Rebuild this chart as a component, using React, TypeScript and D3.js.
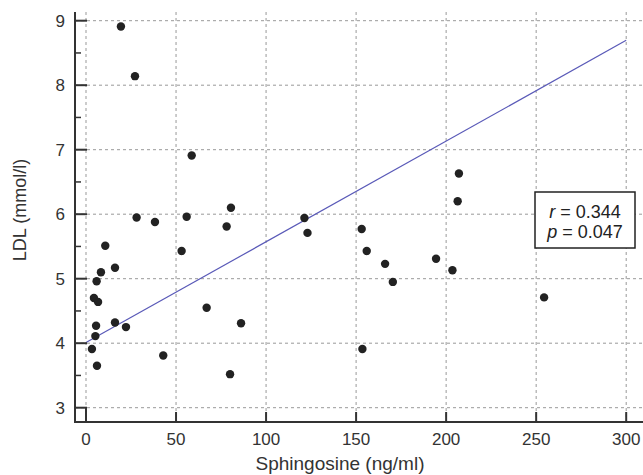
import React from "react";
import * as d3 from "d3";

const sphingosine = [19.4, 27.2, 58.7, 28.1, 38.3, 55.9, 10.7, 53.1, 16.1, 8.3, 5.9, 4.4, 6.7, 67.0, 16.1, 5.6, 22.2, 5.2, 3.3, 42.9, 6.1, 80.5, 78.1, 121.3, 123.0, 153.1, 155.9, 166.1, 170.4, 194.4, 203.5, 86.1, 153.5, 80.0, 207.1, 206.4, 254.4];
const ldl = [8.91, 8.14, 6.91, 5.95, 5.88, 5.96, 5.51, 5.43, 5.17, 5.10, 4.96, 4.70, 4.64, 4.55, 4.32, 4.27, 4.25, 4.11, 3.91, 3.81, 3.65, 6.10, 5.81, 5.94, 5.71, 5.77, 5.43, 5.23, 4.95, 5.31, 5.13, 4.31, 3.91, 3.52, 6.63, 6.20, 4.71];
const xTicks = [0, 50, 100, 150, 200, 250, 300];
const yTicks = [3, 4, 5, 6, 7, 8, 9];
const yMinorTicks = [3.5, 4.5, 5.5, 6.5, 7.5, 8.5];
const regression = { intercept: 4.01, slope: 0.01562 };
const stats = { r: "0.344", p: "0.047" };

export default function App() {
  const x = d3.scaleLinear().domain([0, 300]).range([86, 626.2]);
  const y = d3.scaleLinear().domain([3, 9]).range([407.7, 20.7]);
  const axisX = 75;
  const axisY = 422;
  const topY = 12;
  const rightX = 643;
  const font = "Liberation Sans, Arial, Helvetica, sans-serif";
  const line = d3.line<number>().x((d) => x(d)).y((d) => y(regression.intercept + regression.slope * d));
  return (
    <svg width={643} height={475} style={{ position: "absolute", left: 0, top: 0, background: "#fff" }} fontFamily={font}>
      {/* grid */}
      {xTicks.map((t) => (
        <line key={"gx" + t} x1={x(t)} x2={x(t)} y1={topY} y2={axisY} stroke="#999" strokeWidth={1} strokeDasharray="3,3" />
      ))}
      {yTicks.map((t) => (
        <line key={"gy" + t} x1={axisX} x2={rightX} y1={y(t)} y2={y(t)} stroke="#999" strokeWidth={1} strokeDasharray="3,3" />
      ))}
      {/* regression line */}
      <path d={line([0, 300]) || ""} fill="none" stroke="#5a5ab8" strokeWidth={1.2} />
      {/* points */}
      {sphingosine.map((v, i) => (
        <circle key={"p" + i} cx={x(v)} cy={y(ldl[i])} r={4.2} fill="#222" />
      ))}
      {/* axes */}
      <line x1={axisX} x2={axisX} y1={topY} y2={axisY + 1} stroke="#333" strokeWidth={2} />
      <line x1={axisX - 1} x2={rightX} y1={axisY} y2={axisY} stroke="#333" strokeWidth={2} />
      {yTicks.map((t) => (
        <line key={"ty" + t} x1={axisX} x2={axisX + 12} y1={y(t)} y2={y(t)} stroke="#333" strokeWidth={2} />
      ))}
      {yMinorTicks.map((t) => (
        <line key={"tym" + t} x1={axisX} x2={axisX + 6} y1={y(t)} y2={y(t)} stroke="#333" strokeWidth={1.5} />
      ))}
      {xTicks.map((t) => (
        <line key={"tx" + t} x1={x(t)} x2={x(t)} y1={axisY} y2={t === 0 ? y(3) : axisY - 10} stroke="#333" strokeWidth={2} />
      ))}
      {/* tick labels */}
      {yTicks.map((t) => (
        <text key={"ly" + t} x={65} y={y(t)} dy="0.36em" textAnchor="end" fontSize={17} fill="#333">{t}</text>
      ))}
      {xTicks.map((t) => (
        <text key={"lx" + t} x={x(t)} y={445} textAnchor="middle" fontSize={17} fill="#333">{t}</text>
      ))}
      {/* axis titles */}
      <text x={340} y={470} textAnchor="middle" fontSize={19} fill="#333">Sphingosine (ng/ml)</text>
      <text transform="translate(26,210) rotate(-90)" textAnchor="middle" fontSize={18} fill="#333">LDL (mmol/l)</text>
      {/* stats box */}
      <rect x={535} y={192} width={100} height={56} fill="#fff" stroke="#222" strokeWidth={1.5} />
      <text x={585} y={218} textAnchor="middle" fontSize={18} fill="#222">
        <tspan fontStyle="italic">r</tspan> = {stats.r}
      </text>
      <text x={585} y={238} textAnchor="middle" fontSize={18} fill="#222">
        <tspan fontStyle="italic">p</tspan> = {stats.p}
      </text>
    </svg>
  );
}
